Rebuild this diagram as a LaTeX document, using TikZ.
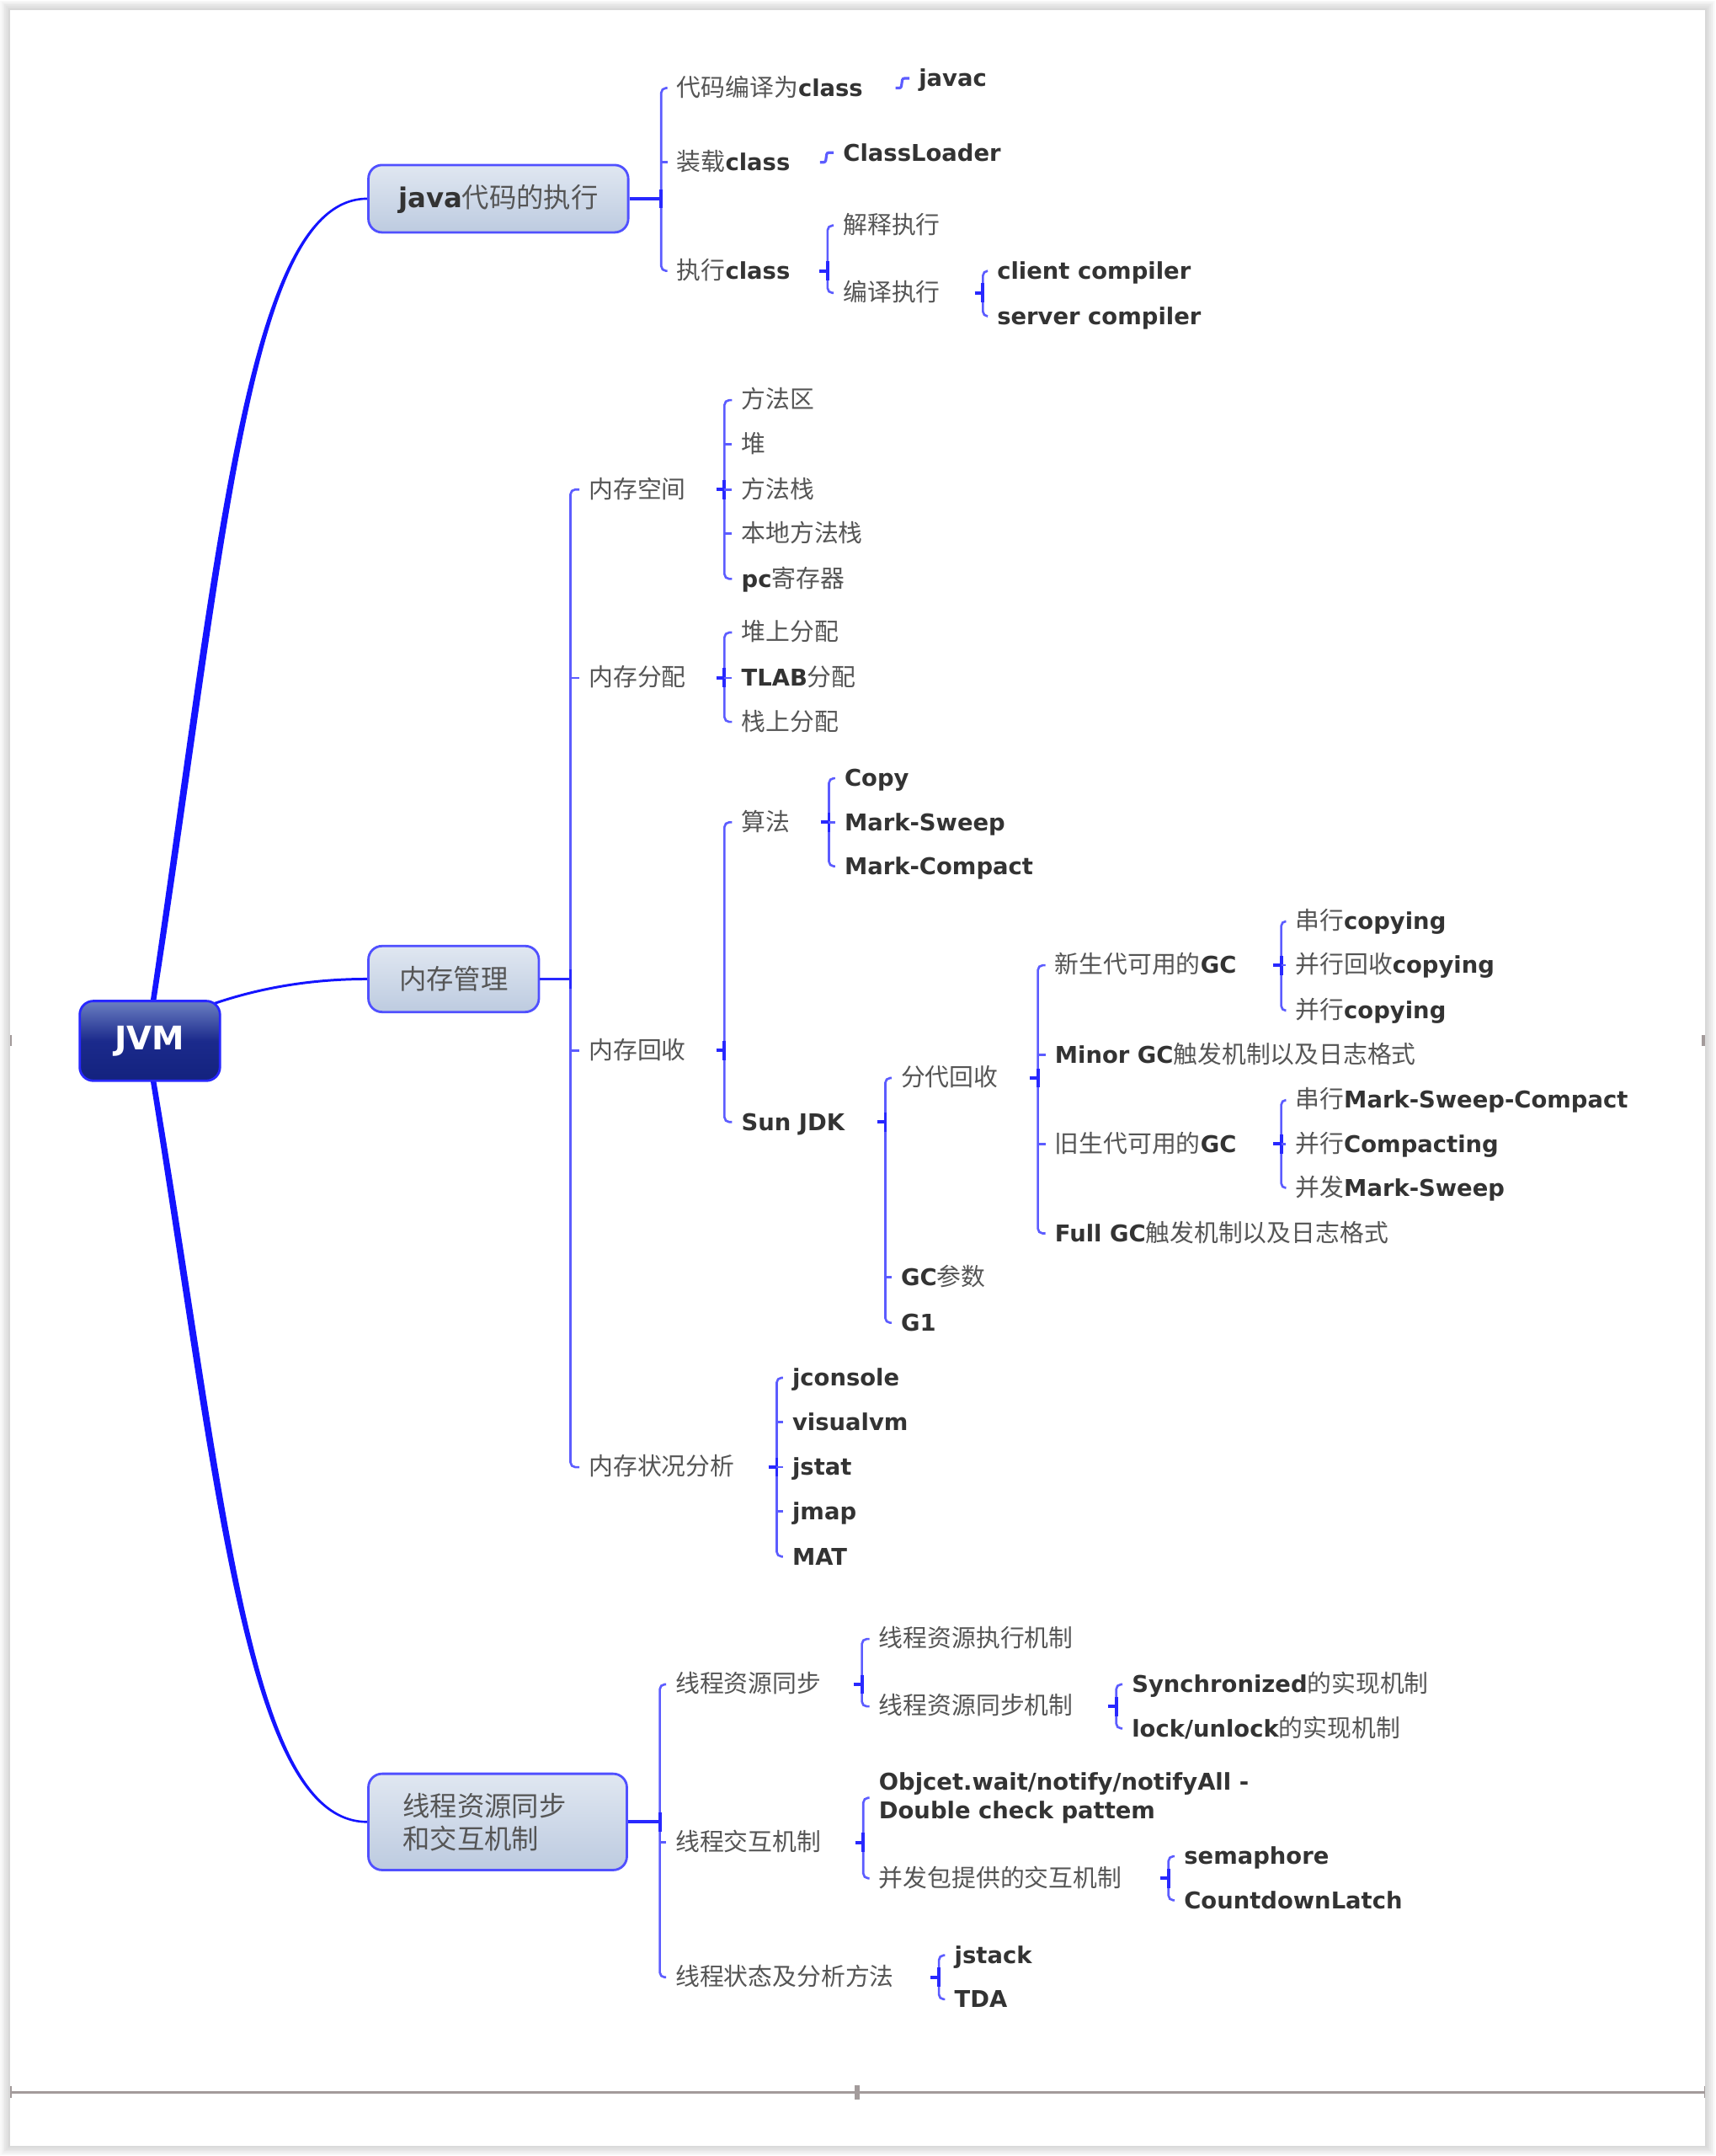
\documentclass[tikz,border=0pt]{standalone}
\usepackage{fontspec}
\setmainfont{DejaVu Sans}
\newfontfamily\zhf{Noto Sans CJK SC}
\usetikzlibrary{calc,backgrounds}
\newlength\U \setlength\U{0.01633cm}
\definecolor{zhc}{HTML}{555555}
\definecolor{enc}{HTML}{333333}
\definecolor{lc}{RGB}{20,20,255}
\definecolor{brc}{HTML}{5C5CFF}
\definecolor{bjc}{HTML}{2828FF}
\definecolor{rul}{HTML}{A39B9B}
\definecolor{boxbd}{HTML}{5050FF}
\newcommand\zh[2][8.2]{{\zhf\mdseries\fontsize{#1pt}{12pt}\selectfont\color{zhc}#2}}
\newcommand\mmbrk[3]{%
  \draw[brl] (#2.west) -| (#1) |- (#3.west);
  \draw[brj] ($(#1)+(-6,0)$) -- (#1);
  \draw[brj] ($(#1)+(0,-7)$) -- ($(#1)+(0,7)$);
}
\newcommand\mmmid[2]{\draw[brl] (#1 |- #2.west) -- (#2.west);}
\begin{document}
\begin{tikzpicture}[x=\U, y=-\U,
  leaf/.style={anchor=west, inner xsep=3pt, inner ysep=0pt, text height=6.3pt, text depth=0.7pt, text=enc, font=\fontsize{7.8pt}{9.8pt}\selectfont\bfseries},
  leafii/.style={anchor=west, inner xsep=3pt, inner ysep=0pt, align=left, text=enc, font=\fontsize{7.8pt}{9.8pt}\selectfont\bfseries},
  lvlone/.style={draw=boxbd, line width=0.8pt, rounded corners=4.6pt, top color=lvtop, bottom color=lvbot, text=enc, inner sep=0pt, font=\fontsize{9.2pt}{11.1pt}\selectfont\bfseries},
  rootbox/.style={draw=bjc, line width=0.8pt, rounded corners=4.6pt, top color=rttop, bottom color=rtbot, middle color=rtmid, text=white, minimum width=102\U, minimum height=58\U, font=\fontsize{11pt}{13pt}\selectfont\bfseries},
  brl/.style={draw=brc, line width=0.75pt, rounded corners=1.6pt},
  brj/.style={draw=bjc, line width=1.1pt},
  sconn/.style={draw=brc, line width=0.9pt, rounded corners=0.6pt},
]
\definecolor{lvtop}{HTML}{E0E7F1}
\definecolor{lvbot}{HTML}{BDCBE0}
\definecolor{rttop}{HTML}{6B7FC2}
\definecolor{rtmid}{HTML}{1B2A8C}
\definecolor{rtbot}{HTML}{13227E}
\useasboundingbox (0,0) rectangle (1248,1568);

% ---------- level 0 / 1 ----------
\node[rootbox] (jvm) at (109,757) {JVM};
\node[lvlone, minimum width=189\U, minimum height=49\U] (java) at (362.5,144.5) {java\zh[9.2]{代码的执行}};
\node[lvlone, minimum width=124\U, minimum height=48\U] (mem) at (330,712) {\zh[9.2]{内存管理}};
\node[lvlone, minimum height=70\U, text width=138\U, inner xsep=25\U, align=left] (thr) at (362,1325) {\zh[9.2]{线程资源同步}\\\zh[9.2]{和交互机制}};

% ---------- java branch ----------
\node[leaf] (a1) at (485.5,64) {\zh{代码编译为}class};
\node[leaf] (a2) at (485.5,118) {\zh{装载}class};
\node[leaf] (a3) at (485.5,197) {\zh{执行}class};
\node[leaf] (a11) at (661.5,57) {javac};
\node[leaf] (a21) at (606.5,111) {ClassLoader};
\node[leaf] (a31) at (606.5,164) {\zh{解释执行}};
\node[leaf] (a32) at (606.5,213) {\zh{编译执行}};
\node[leaf] (a321) at (718.5,197) {client compiler};
\node[leaf] (a322) at (718.5,230) {server compiler};
\coordinate (ja) at (481,144.5);
\draw[brj] (java.east) -- (ja);
\mmbrk{ja}{a1}{a3} \mmmid{ja}{a2}
\draw[sconn] ($(a11.west)+(-10,7)$) -- ++(4,0) -- ++(1,-7) -- (a11.west);
\draw[sconn] ($(a21.west)+(-10,7)$) -- ++(4,0) -- ++(1,-7) -- (a21.west);
\coordinate (ja3) at (602,197); \mmbrk{ja3}{a31}{a32}
\coordinate (ja32) at (715,213); \mmbrk{ja32}{a321}{a322}

% ---------- memory branch ----------
\node[leaf] (b1) at (421.5,356) {\zh{内存空间}};
\node[leaf] (b2) at (421.5,493) {\zh{内存分配}};
\node[leaf] (b3) at (421.5,764) {\zh{内存回收}};
\node[leaf] (b4) at (421.5,1067) {\zh{内存状况分析}};
\coordinate (jb) at (415,712);
\draw[brj] (mem.east) -- (jb);
\mmbrk{jb}{b1}{b4} \mmmid{jb}{b2} \mmmid{jb}{b3}

\node[leaf] (b11) at (532.5,291) {\zh{方法区}};
\node[leaf] (b12) at (532.5,323) {\zh{堆}};
\node[leaf] (b13) at (532.5,356) {\zh{方法栈}};
\node[leaf] (b14) at (532.5,388) {\zh{本地方法栈}};
\node[leaf] (b15) at (532.5,421) {pc\zh{寄存器}};
\coordinate (jb1) at (527,356);
\mmbrk{jb1}{b11}{b15} \mmmid{jb1}{b12} \mmmid{jb1}{b13} \mmmid{jb1}{b14}

\node[leaf] (b21) at (532.5,460) {\zh{堆上分配}};
\node[leaf] (b22) at (532.5,493) {TLAB\zh{分配}};
\node[leaf] (b23) at (532.5,525) {\zh{栈上分配}};
\coordinate (jb2) at (527,493);
\mmbrk{jb2}{b21}{b23} \mmmid{jb2}{b22}

\node[leaf] (b31) at (532.5,598) {\zh{算法}};
\node[leaf] (b32) at (532.5,816) {Sun JDK};
\coordinate (jb3) at (527,764);
\mmbrk{jb3}{b31}{b32}

\node[leaf] (c1) at (607.5,566) {Copy};
\node[leaf] (c2) at (607.5,598) {Mark-Sweep};
\node[leaf] (c3) at (607.5,630) {Mark-Compact};
\coordinate (jc) at (603,598);
\mmbrk{jc}{c1}{c3} \mmmid{jc}{c2}

\node[leaf] (d1) at (648.5,784) {\zh{分代回收}};
\node[leaf] (d2) at (648.5,929) {GC\zh{参数}};
\node[leaf] (d3) at (648.5,962) {G1};
\coordinate (jd) at (644,816);
\mmbrk{jd}{d1}{d3} \mmmid{jd}{d2}

\node[leaf] (e1) at (760.5,702) {\zh{新生代可用的}GC};
\node[leaf] (e2) at (760.5,767) {Minor GC\zh{触发机制以及日志格式}};
\node[leaf] (e3) at (760.5,832) {\zh{旧生代可用的}GC};
\node[leaf] (e4) at (760.5,897) {Full GC\zh{触发机制以及日志格式}};
\coordinate (je) at (755,784);
\mmbrk{je}{e1}{e4} \mmmid{je}{e2} \mmmid{je}{e3}

\node[leaf] (f1) at (935.5,670) {\zh{串行}copying};
\node[leaf] (f2) at (935.5,702) {\zh{并行回收}copying};
\node[leaf] (f3) at (935.5,735) {\zh{并行}copying};
\coordinate (jf) at (932,702);
\mmbrk{jf}{f1}{f3} \mmmid{jf}{f2}

\node[leaf] (g1) at (935.5,800) {\zh{串行}Mark-Sweep-Compact};
\node[leaf] (g2) at (935.5,832) {\zh{并行}Compacting};
\node[leaf] (g3) at (935.5,864) {\zh{并发}Mark-Sweep};
\coordinate (jg) at (932,832);
\mmbrk{jg}{g1}{g3} \mmmid{jg}{g2}

\node[leaf] (h1) at (569.5,1002) {jconsole};
\node[leaf] (h2) at (569.5,1034) {visualvm};
\node[leaf] (h3) at (569.5,1067) {jstat};
\node[leaf] (h4) at (569.5,1099) {jmap};
\node[leaf] (h5) at (569.5,1132) {MAT};
\coordinate (jh) at (565,1067);
\mmbrk{jh}{h1}{h5} \mmmid{jh}{h2} \mmmid{jh}{h3} \mmmid{jh}{h4}

% ---------- thread branch ----------
\node[leaf] (t1) at (484.5,1225) {\zh{线程资源同步}};
\node[leaf] (t2) at (484.5,1340) {\zh{线程交互机制}};
\node[leaf] (t3) at (484.5,1438) {\zh{线程状态及分析方法}};
\coordinate (jt) at (480,1325);
\draw[brj] (thr.east) -- (jt);
\mmbrk{jt}{t1}{t3} \mmmid{jt}{t2}

\node[leaf] (t11) at (632.5,1192) {\zh{线程资源执行机制}};
\node[leaf] (t12) at (632.5,1241) {\zh{线程资源同步机制}};
\coordinate (jt1) at (627,1225);
\mmbrk{jt1}{t11}{t12}

\node[leaf] (t121) at (816.5,1225) {Synchronized\zh{的实现机制}};
\node[leaf] (t122) at (816.5,1257) {lock/unlock\zh{的实现机制}};
\coordinate (jt12) at (812,1241);
\mmbrk{jt12}{t121}{t122}

\node[leafii] (t21) at (632.5,1307.5) {Objcet.wait/notify/notifyAll -\\Double check pattem};
\node[leaf] (t22) at (632.5,1366) {\zh{并发包提供的交互机制}};
\coordinate (jt2) at (628,1340);
\mmbrk{jt2}{t21}{t22}

\node[leaf] (t221) at (854.5,1350) {semaphore};
\node[leaf] (t222) at (854.5,1382) {CountdownLatch};
\coordinate (jt22) at (850,1366);
\mmbrk{jt22}{t221}{t222}

\node[leaf] (t31) at (687.5,1422) {jstack};
\node[leaf] (t32) at (687.5,1454) {TDA};
\coordinate (jt3) at (683,1438);
\mmbrk{jt3}{t31}{t32}

% ---------- background: page, shadow, main curves ----------
\begin{scope}[on background layer]
  \foreach \i in {1,...,7}
    \fill[black, opacity=0.022] ({7.3-\i},{7.3-\i}) rectangle ({1240.6+\i},{1560.5+\i});
  \fill[white] (7.3,7.3) rectangle (1240.6,1560.5);
  \draw[rul, line width=1.3\U] (7.3,1521.7) -- (1240.6,1521.7);
  \draw[rul, line width=1\U] (8,1517) -- (8,1526);
  \draw[rul, line width=1\U] (1240,1517) -- (1240,1526);
  \fill[rul] (621.5,1516.5) rectangle (625.5,1527);
  \fill[rul] (7.3,753) rectangle (8.8,761);
  \fill[rul] (1238,753) rectangle (1240.6,761);
  % JVM -> java (tapered)
  \fill[lc] ($(jvm.north)+(0,4)$) .. controls +(49,-332) and +(-88,0) .. ($(java.west)+(0,-0.8)$)
     -- ($(java.west)+(0,0.8)$) .. controls +(-86,0) and +(52,-332) .. ($(jvm.north)+(4,4)$) -- cycle;
  % JVM -> thread (tapered)
  \fill[lc] ($(jvm.south)+(0,-4)$) .. controls +(49,306) and +(-88,0) .. ($(thr.west)+(0,0.8)$)
     -- ($(thr.west)+(0,-0.8)$) .. controls +(-86,0) and +(52,306) .. ($(jvm.south)+(4,-4)$) -- cycle;
  % JVM -> memory
  \draw[lc, line width=0.85pt] ($(jvm.north east)+(-6,3)$) .. controls +(35,-12) and +(-40,0) .. (mem.west);
\end{scope}
\end{tikzpicture}
\end{document}
